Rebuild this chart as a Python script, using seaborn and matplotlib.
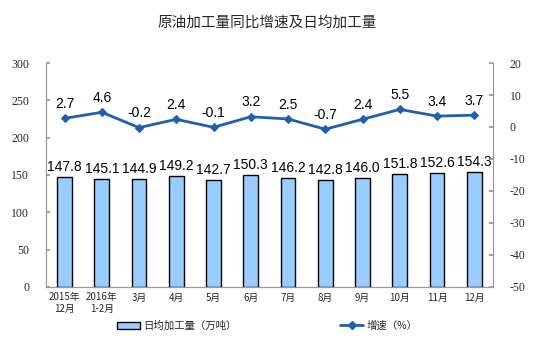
import matplotlib
matplotlib.use("Agg")
import matplotlib.pyplot as plt
import seaborn as sns
import pandas as pd
from matplotlib.patches import Patch
from matplotlib.lines import Line2D
from matplotlib.font_manager import FontProperties

categories = ["2015年\n12月", "2016年\n1-2月", "3月", "4月", "5月", "6月",
              "7月", "8月", "9月", "10月", "11月", "12月"]
daily_output = [147.8, 145.1, 144.9, 149.2, 142.7, 150.3, 146.2, 142.8, 146.0, 151.8, 152.6, 154.3]
growth = [2.7, 4.6, -0.2, 2.4, -0.1, 3.2, 2.5, -0.7, 2.4, 5.5, 3.4, 3.7]
left_ticks = [0, 50, 100, 150, 200, 250, 300]
right_ticks = [-50, -40, -30, -20, -10, 0, 10, 20]

sns.set_theme(style="white")
plt.rcParams['font.family'] = ['Noto Sans CJK SC', 'DejaVu Sans']
plt.rcParams['axes.unicode_minus'] = False

df = pd.DataFrame({"cat": categories, "out": daily_output, "g": growth})

fig = plt.figure(figsize=(5.34, 3.56), dpi=100)
ax = fig.add_axes([0.086, 0.194, 0.837, 0.629])
sns.barplot(data=df, x="cat", y="out", ax=ax, color="#99CCFF", width=0.4,
            edgecolor="black", linewidth=1.0, saturation=1)
ax.set_ylim(0, 300)
ax.set_xlim(-0.5, len(categories) - 0.5)
ax.set_xlabel("")
ax.set_ylabel("")

for i, v in enumerate(daily_output):
    ax.text(i, v + 4, f"{v:.1f}", ha="center", va="bottom", fontsize=10,
            family="Liberation Sans", color="black")

ax2 = ax.twinx()
sns.lineplot(x=list(range(len(categories))), y=growth, ax=ax2, color="#1F5FAF",
             marker="D", markersize=4.5, markeredgecolor="#1F5FAF", linewidth=2)
ax2.set_ylim(-50, 20)
for i, v in enumerate(growth):
    ax2.text(i, v + 2.3, f"{v:.1f}", ha="center", va="bottom", fontsize=10,
             family="Liberation Sans", color="black")

for a in (ax, ax2):
    for s in a.spines.values():
        s.set_color("#999999")
        s.set_linewidth(0.8)
    a.spines["top"].set_visible(False)

ax.set_yticks(left_ticks)
ax2.set_yticks(right_ticks)
ax.tick_params(axis="y", direction="in", length=3, color="#999999", pad=12)
ax2.tick_params(axis="y", direction="in", length=3, color="#999999", pad=12)

ax.set_xticks(range(len(categories)))
ax.set_xticklabels(categories, fontsize=7)
ax.tick_params(axis="x", length=0, pad=4)
ax.set_xticks([i + 0.5 for i in range(len(categories) - 1)], minor=True)
ax.tick_params(axis="x", which="minor", direction="in", length=3, color="#999999")
ax.grid(False)
ax2.grid(False)

fig.suptitle("原油加工量同比增速及日均加工量", x=0.5, y=0.955, fontsize=10.5)

handles = [Patch(facecolor="#99CCFF", edgecolor="black", linewidth=1.0),
           Line2D([0], [0], color="#1F5FAF", marker="D", markersize=4, linewidth=2)]
labels = ["日均加工量（万吨）", "增速（%）"]
fig.legend(handles, labels, loc="center", bbox_to_anchor=(0.5, 0.085), ncol=2,
           frameon=False, fontsize=7.5, columnspacing=10, handlelength=2.2,
           handletextpad=0.3)

fig.canvas.draw()
serif_fp = FontProperties(family="Liberation Serif", size=8.5)
for lbl in ax.get_yticklabels() + ax2.get_yticklabels():
    lbl.set_fontproperties(serif_fp)

fig.savefig("out.png", dpi=100)
